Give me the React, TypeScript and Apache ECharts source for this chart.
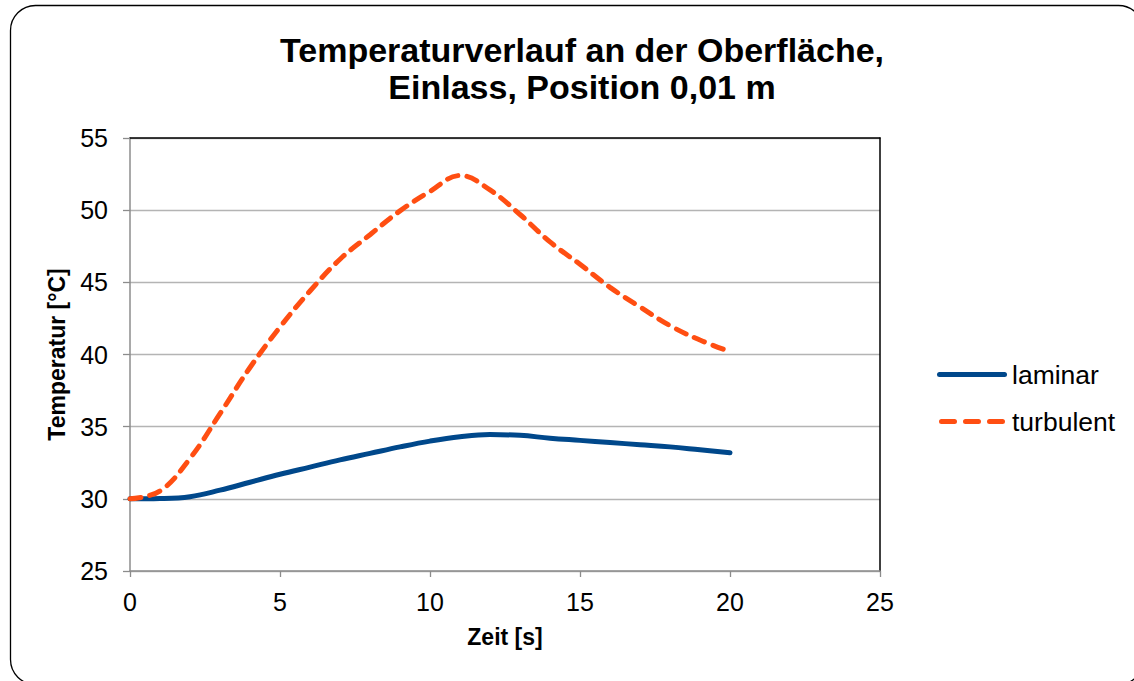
import React, { useEffect, useRef } from "react";
import * as echarts from "echarts";

const timeSec = [0, 1, 2, 3, 4, 5, 6, 7, 8, 9, 10, 11, 12, 13, 14, 15, 16, 17, 18, 19, 20];
const laminar = [30.0, 30.02, 30.15, 30.6, 31.15, 31.7, 32.2, 32.7, 33.15, 33.6, 34.0, 34.3, 34.45, 34.4, 34.2, 34.05, 33.9, 33.75, 33.6, 33.4, 33.2];
const turbulent = [30.0, 30.55, 32.8, 35.9, 39.1, 41.9, 44.4, 46.6, 48.3, 49.95, 51.3, 52.4, 51.4, 49.7, 47.8, 46.25, 44.65, 43.3, 42.0, 41.0, 40.2];
const seriesNames = ["laminar", "turbulent"];
const titleText = "Temperaturverlauf an der Oberfläche,\nEinlass, Position 0,01 m";
const xName = "Zeit [s]";
const yName = "Temperatur [°C]";

const FONT = "'Liberation Sans', Arial, sans-serif";

const solidIcon = "path://M2.5,0 L67.5,0 A2.5,2.5 0 0 1 67.5,5 L2.5,5 A2.5,2.5 0 0 1 2.5,0 Z";
const dashedIcon =
  "path://M2.5,0 L15.5,0 A2.5,2.5 0 0 1 15.5,5 L2.5,5 A2.5,2.5 0 0 1 2.5,0 Z " +
  "M26.5,0 L39.5,0 A2.5,2.5 0 0 1 39.5,5 L26.5,5 A2.5,2.5 0 0 1 26.5,0 Z " +
  "M50.5,0 L63.5,0 A2.5,2.5 0 0 1 63.5,5 L50.5,5 A2.5,2.5 0 0 1 50.5,0 Z";

export default function App() {
  const ref = useRef<HTMLDivElement>(null);
  useEffect(() => {
    if (!ref.current) return;
    const chart = echarts.init(ref.current, undefined, { renderer: "svg" });
    const pairs = (ys: number[]) => timeSec.map((t, i) => [t, ys[i]]);
    chart.setOption({
      animation: false,
      backgroundColor: "#ffffff",
      textStyle: { fontFamily: FONT },
      title: {
        text: titleText,
        left: 577,
        top: 26,
        textAlign: "center",
        textStyle: { fontFamily: FONT, fontSize: 34, fontWeight: "bold", color: "#000", lineHeight: 37 },
      },
      graphic: [
        {
          type: "rect",
          shape: { x: 10.5, y: 5.5, width: 1133, height: 679, r: 25 },
          style: { fill: "none", stroke: "#000", lineWidth: 1.3 },
          silent: true,
          z: 100,
        },
      ],
      legend: {
        orient: "vertical",
        left: 937,
        top: 361,
        padding: 0,
        itemWidth: 70,
        itemHeight: 5,
        itemGap: 20,
        textStyle: { fontFamily: FONT, fontSize: 26.5, color: "#000", lineHeight: 26 },
        data: [
          { name: seriesNames[0], icon: solidIcon },
          { name: seriesNames[1], icon: dashedIcon },
        ],
      },
      grid: { left: 130, right: 254, top: 138, bottom: 110, containLabel: false },
      xAxis: [
        {
          type: "value",
          min: 0,
          max: 25,
          interval: 5,
          name: xName,
          nameLocation: "middle",
          nameGap: 54,
          nameTextStyle: { fontFamily: FONT, fontSize: 23, fontWeight: "bold", color: "#000" },
          axisLine: { show: true, onZero: false, lineStyle: { color: "#8c8c8c", width: 1.5 } },
          axisTick: { show: true, length: 6, lineStyle: { color: "#8c8c8c", width: 1.3 } },
          axisLabel: { fontFamily: FONT, fontSize: 25, color: "#000", margin: 18 },
          splitLine: { show: false },
        },
        {
          type: "value",
          position: "top",
          min: 0,
          max: 25,
          interval: 5,
          axisLine: { show: true, onZero: false, lineStyle: { color: "#000", width: 1.5 } },
          axisTick: { show: false },
          axisLabel: { show: false },
          splitLine: { show: false },
        },
      ],
      yAxis: [
        {
          type: "value",
          min: 25,
          max: 55,
          interval: 5,
          name: yName,
          nameLocation: "middle",
          nameRotate: 90,
          nameGap: 62,
          nameTextStyle: { fontFamily: FONT, fontSize: 23, fontWeight: "bold", color: "#000" },
          axisLine: { show: true, onZero: false, lineStyle: { color: "#8c8c8c", width: 1.5 } },
          axisTick: { show: true, length: 7, lineStyle: { color: "#8c8c8c", width: 1.3 } },
          axisLabel: { fontFamily: FONT, fontSize: 25, color: "#000", margin: 22 },
          splitLine: { show: true, lineStyle: { color: "#b4b4b4", width: 1.3 } },
        },
        {
          type: "value",
          position: "right",
          min: 25,
          max: 55,
          interval: 5,
          axisLine: { show: true, onZero: false, lineStyle: { color: "#000", width: 1.5 } },
          axisTick: { show: false },
          axisLabel: { show: false },
          splitLine: { show: false },
        },
      ],
      series: [
        {
          name: seriesNames[0],
          type: "line",
          data: pairs(laminar),
          smooth: 0.4,
          showSymbol: false,
          symbol: "none",
          color: "#00488B",
          lineStyle: { color: "#00488B", width: 5, cap: "round" },
          z: 3,
        },
        {
          name: seriesNames[1],
          type: "line",
          data: pairs(turbulent),
          smooth: 0.4,
          showSymbol: false,
          symbol: "none",
          color: "#FF4E12",
          lineStyle: { color: "#FF4E12", width: 5, type: [11, 9], cap: "round" },
          z: 4,
        },
      ],
    });
    return () => chart.dispose();
  }, []);
  return (
    <div
      ref={ref}
      style={{ position: "fixed", left: 0, top: 0, width: 1134, height: 681, background: "#fff" }}
    />
  );
}
